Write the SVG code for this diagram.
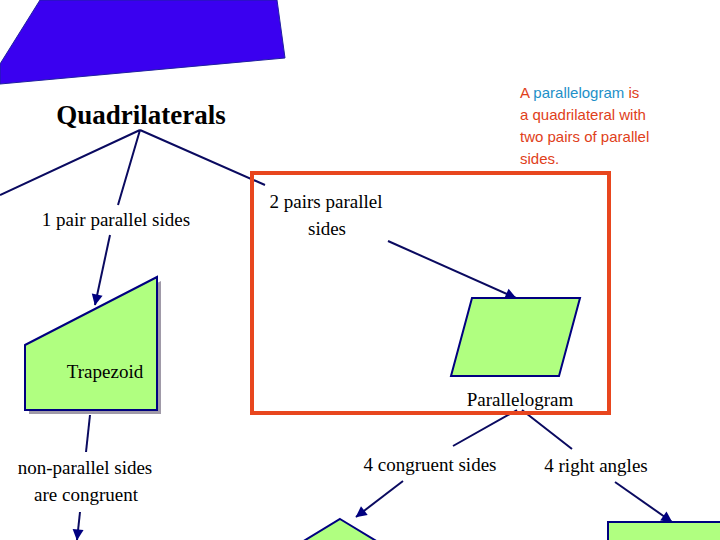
<svg xmlns="http://www.w3.org/2000/svg" width="720" height="540" viewBox="0 0 720 540">
<style>
.s{font-family:"Liberation Serif",serif;font-size:19px;fill:#000;text-anchor:middle}
.n{font-family:"Liberation Sans",sans-serif;font-size:15px;fill:#E0401A}
.sh{fill:#a09aa8}
.g{fill:#b0ff80;stroke:#000080;stroke-width:2}
.c{stroke:#0a0a60;stroke-width:2;fill:none}
</style>
<defs><marker id="a" viewBox="0 0 10 10" refX="9" refY="5" markerWidth="5" markerHeight="5" orient="auto" markerUnits="userSpaceOnUse" style="overflow:visible"><path d="M0,0L10,5L0,10z" fill="#000080" transform="scale(2.2) translate(-5.5,-2.7)"/></marker></defs>
<rect width="720" height="540" fill="#fff"/>
<polygon points="40,0 277,0 285,58 0,84 0,64" fill="#3a00f0" stroke="#2020a0"/>
<g id="connectors" class="c">
<path d="M140,130L0,195M140,130L118,205M140,130L265,185"/>
<path d="M110,235L95,305" marker-end="url(#a)"/>
<path d="M90,415L86,452"/>
<path d="M80,512L77,540" marker-end="url(#a)"/>
<path d="M388,241L516,298" marker-end="url(#a)"/>
<path d="M517,410L453,446M522,410L572,449"/>
<path d="M403,481L356,517" marker-end="url(#a)"/>
<path d="M615,482L672,522" marker-end="url(#a)"/>
</g>
<g id="title"><text x="141" y="124" class="s" style="font-size:27px;font-weight:bold">Quadrilaterals</text></g>
<g id="l1"><text x="116" y="226" class="s">1 pair parallel sides</text></g>
<g id="trapezoid"><polygon class="sh" points="29,349 161,281 161,414 29,414"/><polygon class="g" points="25,345 157,277 157,410 25,410"/><text x="105" y="378" class="s">Trapezoid</text></g>
<g id="l2"><text x="85" y="474" class="s">non-parallel sides</text><text x="86" y="501" class="s">are congruent</text></g>
<g id="box"><rect x="252" y="173" width="357" height="240" fill="none" stroke="#E8461E" stroke-width="4"/></g>
<g id="l3"><text x="326" y="208" class="s">2 pairs parallel</text><text x="327" y="235" class="s">sides</text></g>
<g id="parallelogram"><polygon class="g" points="472,298 580,298 559,376 451,376"/><text x="520" y="406" class="s">Parallelogram</text></g>
<g id="l4"><text x="430" y="471" class="s">4 congruent sides</text></g>
<g id="l5"><text x="596" y="472" class="s">4 right angles</text></g>
<g id="rhombus"><polygon class="g" points="340,519 378,542 302,542"/></g>
<g id="rectangle"><rect class="g" x="608" y="522" width="114" height="30"/></g>
<g id="note"><text class="n" x="520" y="98">A <tspan fill="#1E90C8">parallelogram</tspan> is</text><text class="n" x="520" y="120">a quadrilateral with</text><text class="n" x="520" y="142">two pairs of parallel</text><text class="n" x="520" y="164">sides.</text></g>
</svg>
